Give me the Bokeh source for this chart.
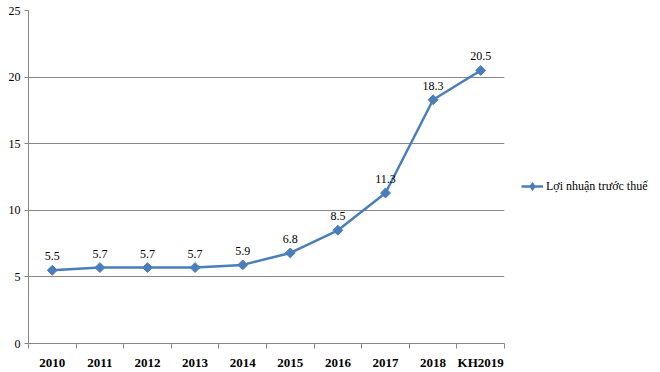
import math
from bokeh.plotting import figure
from bokeh.layouts import row
from bokeh.models import ColumnDataSource, FixedTicker, Legend, LegendItem, Range1d
from bokeh.embed import file_html
from bokeh.resources import INLINE
from bokeh.core.properties import value

categories = ["2010", "2011", "2012", "2013", "2014", "2015", "2016", "2017", "2018", "KH2019"]
profit = [5.5, 5.7, 5.7, 5.7, 5.9, 6.8, 8.5, 11.3, 18.3, 20.5]
labels = ["5.5", "5.7", "5.7", "5.7", "5.9", "6.8", "8.5", "11.3", "18.3", "20.5"]
y_ticks = [0, 5, 10, 15, 20, 25]
series_name = "Lợi nhuận trước thuế"

xs = [i + 0.5 for i in range(len(categories))]
src = ColumnDataSource(dict(x=xs, y=profit, lab=labels))

FONT = "Liberation Serif"
BLUE = "#4a7ebb"
GRID = "#868686"

p = figure(width=510, height=372, output_backend="svg", toolbar_location=None,
           x_range=Range1d(0, len(categories)), y_range=Range1d(0, 25),
           min_border_left=28, min_border_top=10, min_border_bottom=26, min_border_right=6)
p.outline_line_color = None
p.background_fill_color = "white"
p.border_fill_color = "white"

# x axis: labels at category centres, tick marks at boundaries
xa = p.xaxis[0]
xa.ticker = FixedTicker(ticks=xs, minor_ticks=list(range(len(categories) + 1)))
xa.major_label_overrides = {x: c for x, c in zip(xs, categories)}
xa.major_tick_line_color = None
xa.minor_tick_in = 0
xa.minor_tick_out = 5
xa.minor_tick_line_color = GRID
xa.axis_line_color = GRID
xa.major_label_text_font = FONT
xa.major_label_text_font_size = "13px"
xa.major_label_text_font_style = "bold"
xa.major_label_text_color = "black"
xa.major_label_standoff = 5

ya = p.yaxis[0]
ya.ticker = FixedTicker(ticks=y_ticks, minor_ticks=[])
ya.major_tick_in = 0
ya.major_tick_out = 4
ya.major_tick_line_color = GRID
ya.axis_line_color = GRID
ya.major_label_text_font = FONT
ya.major_label_text_font_size = "12px"
ya.major_label_text_color = "black"
ya.major_label_standoff = 4

p.xgrid.grid_line_color = None
p.ygrid.ticker = FixedTicker(ticks=y_ticks)
p.ygrid.grid_line_color = GRID
p.ygrid.grid_line_width = 1

p.line("x", "y", source=src, line_color=BLUE, line_width=2.5)
p.scatter("x", "y", source=src, marker="square", angle=math.pi / 4, size=7,
          fill_color=BLUE, line_color=BLUE)
p.text("x", "y", text="lab", source=src, text_font=value(FONT), text_font_size="12px",
       text_align="center", text_baseline="bottom", y_offset=-10, text_color="black")

# legend panel (dummy renderers placed outside the visible range)
q = figure(width=150, height=372, output_backend="svg", toolbar_location=None,
           x_range=Range1d(0, 1), y_range=Range1d(0, 1),
           min_border_left=0, min_border_right=0, min_border_top=0, min_border_bottom=0)
q.axis.visible = False
q.grid.visible = False
q.outline_line_color = None
q.border_fill_color = "white"
lg_line = q.line(x=[-10, -9], y=[-10, -10], line_color=BLUE, line_width=2.5)
lg_mk = q.scatter(x=[-10], y=[-10], marker="diamond", size=10,
                  fill_color=BLUE, line_color=BLUE)
legend = Legend(items=[LegendItem(label=series_name, renderers=[lg_line, lg_mk])],
                location=(11, 147), border_line_color=None, background_fill_alpha=0,
                label_text_font=FONT, label_text_font_size="12px", label_text_color="black",
                glyph_width=22, glyph_height=20, label_standoff=3, padding=0, margin=0, spacing=0)
q.add_layout(legend)

layout = row(p, q)
open("out.html", "w").write(file_html(layout, INLINE))
